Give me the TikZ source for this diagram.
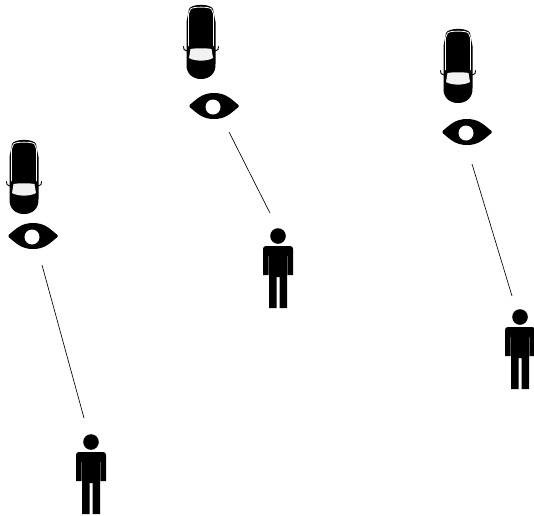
\documentclass[tikz,border=0pt]{standalone}
\usetikzlibrary{positioning,calc}
\definecolor{ink}{HTML}{000000}
\definecolor{glass}{HTML}{F2F2F2}
\tikzset{
  sightline/.style={draw=ink,line width=0.65pt},
  pics/car/.style={code={
    % mirrors
    \draw[ink,line width=0.9pt,line cap=round] (-17.5,44.5) -- (-17,47.5) -- (-14,49) -- (-11,45);
    \draw[ink,line width=0.9pt,line cap=round] (17.5,44.5) -- (17,47.5) -- (14,49) -- (11,45);
    % body
    \fill[ink] (-12,7) .. controls (-10,1.5) and (10,1.5) .. (12,7)
      -- (14.5,20) -- (14.5,62) .. controls (15,72) and (8,77) .. (0,77)
      .. controls (-8,77) and (-15,72) .. (-14.5,62) -- (-14.5,20) -- cycle;
    % side and roof glass
    \draw[white,line width=0.8pt] (-12.5,44) -- (-12.5,12) -- (-10.5,7) .. controls (-8,4.5) and (8,4.5) .. (10.5,7) -- (12.5,12) -- (12.5,44);
    \fill[glass] (-10.5,47) .. controls (-5,46) and (5,46) .. (10.5,47)
      -- (12,56) .. controls (6,59.5) and (-6,59.5) .. (-12,56) -- cycle;
  }},
  pics/eye/.style={code={
    \fill[ink] (-24.5,-1) -- (-24.5,1) .. controls (-17,7) and (-12,13) .. (0,13)
      .. controls (12,13) and (17,7) .. (24.5,1) -- (24.5,-1)
      .. controls (17,-7) and (12,-13) .. (0,-13)
      .. controls (-12,-13) and (-17,-7) .. (-24.5,-1) -- cycle;
    \fill[white] (-1,1) circle (7.5);
  }},
  pics/person/.style={code={
    \fill[ink] (0,0) circle (7.8);
    \fill[ink] (-12,10) -- (12,10) .. controls (14,10) and (15,11) .. (15,13)
      -- (15,39) -- (9.5,39) -- (9.5,20) -- (9,20) -- (9,72) -- (1.5,72) -- (1.5,41) -- (-1.5,41)
      -- (-1.5,72) -- (-9,72) -- (-9,20) -- (-9.5,20) -- (-9.5,39) -- (-15,39) -- (-15,13)
      .. controls (-15,11) and (-14,10) .. (-12,10) -- cycle;
  }}
}

\begin{document}
\begin{tikzpicture}[x=1pt,y=-1pt]
  \useasboundingbox (0,0) rectangle (534,515);
  % left group
  \pic at (24,137) {car};
  \pic at (33,236) {eye};
  \coordinate (sightLa) at (42,265);
  \coordinate (sightLb) at (84,418);
  \draw[sightline] (sightLa) -- (sightLb);
  \pic at (91,442) {person};
  % middle group
  \pic at (201,2) {car};
  \pic at (214,106) {eye};
  \coordinate (sightMa) at (229,132);
  \coordinate (sightMb) at (270,213);
  \draw[sightline] (sightMa) -- (sightMb);
  \pic at (278,236) {person};
  % right group
  \pic at (458,26) {car};
  \pic at (467,132) {eye};
  \coordinate (sightRa) at (472,164);
  \coordinate (sightRb) at (512,296);
  \draw[sightline] (sightRa) -- (sightRb);
  \pic at (520,317) {person};
\end{tikzpicture}
\end{document}
